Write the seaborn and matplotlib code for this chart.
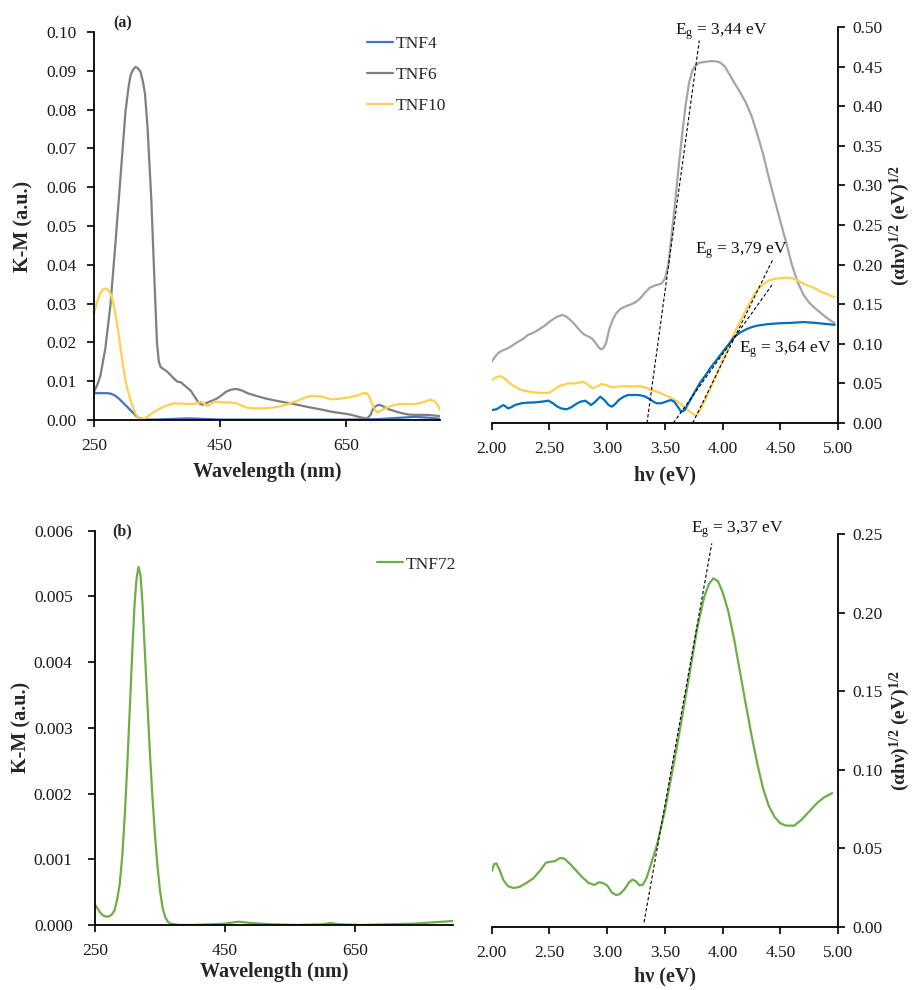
import matplotlib
matplotlib.use('Agg')
import matplotlib.pyplot as plt
import seaborn as sns
import numpy as np

# ---------------- data ----------------
# (a) K-M spectra
wl_tnf4 = [250, 260, 270, 276, 281, 286, 292, 297, 302, 308, 313, 318, 323, 329, 335, 350, 380, 400, 420, 450,
           550, 650, 700, 720, 740, 760, 780, 800]
km_tnf4 = [0.0069, 0.0069, 0.0069, 0.0068, 0.0065, 0.0060, 0.0051, 0.0043, 0.0035, 0.0025, 0.0017, 0.0009,
           0.0004, 0.0002, 0.0001, 0.0001, 0.0003, 0.0004, 0.0003, 0.0001,
           0.0001, 0.0001, 0.0002, 0.0004, 0.0006, 0.0008, 0.0006, 0.0003]

wl_tnf6 = [250, 255, 260, 268, 276, 284, 292, 300, 305, 308,
           312, 316, 320, 324, 328, 331, 335, 341, 346, 350,
           353, 356, 366, 375, 382, 388, 396, 404, 409, 414,
           418, 422, 427, 433, 440, 446, 453, 460, 468, 476,
           485, 494, 508, 521, 535, 548, 561, 574, 588, 601,
           614, 628, 641, 654, 664, 673, 679, 684, 689, 694,
           699, 704, 711, 718, 729, 740, 750, 761, 772, 782,
           793, 800]
km_tnf6 = [0.0073, 0.0090, 0.0113, 0.0185, 0.0295, 0.0455, 0.0625, 0.0795, 0.0860, 0.0888,
           0.0903, 0.0910, 0.0906, 0.0897, 0.0870, 0.0840, 0.0755, 0.0570, 0.0360, 0.0200,
           0.0150, 0.0136, 0.0125, 0.0110, 0.0099, 0.0097, 0.0086, 0.0075, 0.0062, 0.0050,
           0.0042, 0.0039, 0.0042, 0.0047, 0.0051, 0.0056, 0.0064, 0.0073, 0.0078, 0.0080,
           0.0076, 0.0069, 0.0062, 0.0056, 0.0051, 0.0047, 0.0043, 0.0039, 0.0034, 0.0030,
           0.0026, 0.0021, 0.0018, 0.0015, 0.0011, 0.0007, 0.0005, 0.0004, 0.0012, 0.0030,
           0.0037, 0.0039, 0.0034, 0.0028, 0.0022, 0.0017, 0.0014, 0.0013, 0.0013, 0.0013,
           0.0011, 0.0010]

wl_tnf10 = [250, 255, 260, 264, 268, 272, 276, 280, 284, 288,
            292, 296, 300, 304, 308, 312, 316, 320, 324, 328,
            332, 338, 345, 353, 361, 369, 377, 390, 404, 412,
            420, 425, 430, 435, 441, 450, 460, 468, 476, 485,
            494, 508, 521, 535, 548, 558, 569, 580, 590, 596,
            604, 612, 620, 628, 641, 654, 663, 670, 676, 681,
            684, 687, 691, 695, 700, 706, 713, 722, 734, 748,
            761, 772, 780, 785, 791, 796, 800]
km_tnf10 = [0.0275, 0.0305, 0.0327, 0.0336, 0.0339, 0.0336, 0.0327, 0.0305, 0.0273, 0.0232,
            0.0186, 0.0142, 0.0101, 0.0074, 0.0050, 0.0032, 0.0016, 0.0007, 0.0002, 0.0002,
            0.0005, 0.0012, 0.0021, 0.0028, 0.0034, 0.0039, 0.0043, 0.0042, 0.0041, 0.0042,
            0.0047, 0.0042, 0.0036, 0.0041, 0.0047, 0.0046, 0.0045, 0.0045, 0.0043, 0.0037,
            0.0031, 0.0030, 0.0030, 0.0032, 0.0036, 0.0041, 0.0047, 0.0054, 0.0060, 0.0062,
            0.0061, 0.0060, 0.0056, 0.0053, 0.0055, 0.0058, 0.0061, 0.0064, 0.0068, 0.0070,
            0.0068, 0.0062, 0.0045, 0.0031, 0.0019, 0.0024, 0.0030, 0.0036, 0.0041, 0.0041,
            0.0041, 0.0045, 0.0050, 0.0052, 0.0049, 0.0040, 0.0026]

# (a) Tauc plots
ev_tnf6 = [2.00, 2.03, 2.06, 2.10, 2.14, 2.19, 2.23, 2.28, 2.31, 2.36,
           2.40, 2.45, 2.49, 2.53, 2.57, 2.61, 2.64, 2.67, 2.71, 2.75,
           2.79, 2.81, 2.84, 2.87, 2.90, 2.93, 2.95, 2.97, 2.99, 3.02,
           3.05, 3.08, 3.12, 3.17, 3.21, 3.25, 3.29, 3.33, 3.37, 3.42,
           3.47, 3.50, 3.53, 3.56, 3.59, 3.62, 3.65, 3.68, 3.71, 3.74,
           3.77, 3.80, 3.85, 3.90, 3.95, 3.98, 4.02, 4.06, 4.10, 4.15,
           4.20, 4.25, 4.30, 4.35, 4.40, 4.45, 4.50, 4.55, 4.60, 4.65,
           4.70, 4.75, 4.80, 4.85, 4.90, 4.97]
tauc_tnf6 = [0.0774, 0.084, 0.089, 0.092, 0.0943, 0.099, 0.1027, 0.107, 0.111, 0.114,
             0.1174, 0.122, 0.1267, 0.131, 0.1345, 0.1364, 0.135, 0.1315, 0.126, 0.119,
             0.113, 0.111, 0.109, 0.1065, 0.101, 0.095, 0.093, 0.095, 0.101, 0.1195,
             0.131, 0.139, 0.1445, 0.148, 0.150, 0.153, 0.158, 0.165, 0.171, 0.174,
             0.176, 0.182, 0.200, 0.240, 0.280, 0.325, 0.365, 0.402, 0.430, 0.446,
             0.452, 0.455, 0.456, 0.457, 0.4565, 0.455, 0.450, 0.440, 0.430, 0.418,
             0.405, 0.388, 0.365, 0.340, 0.310, 0.282, 0.255, 0.228, 0.200, 0.178,
             0.162, 0.152, 0.145, 0.139, 0.133, 0.126]

ev_tnf10 = [2.00, 2.04, 2.07, 2.11, 2.15, 2.20, 2.25, 2.29, 2.35, 2.40,
            2.45, 2.50, 2.54, 2.58, 2.62, 2.66, 2.72, 2.79, 2.83, 2.87,
            2.91, 2.95, 2.99, 3.04, 3.10, 3.15, 3.22, 3.27, 3.33, 3.38,
            3.44, 3.50, 3.56, 3.61, 3.65, 3.69, 3.73, 3.76, 3.78, 3.81,
            3.85, 3.90, 3.95, 4.00, 4.05, 4.10, 4.15, 4.20, 4.25, 4.30,
            4.35, 4.40, 4.45, 4.50, 4.55, 4.60, 4.65, 4.70, 4.75, 4.80,
            4.85, 4.90, 4.97]
tauc_tnf10 = [0.0543, 0.058, 0.0593, 0.0565, 0.051, 0.0459, 0.042, 0.0405, 0.039, 0.0383,
              0.038, 0.0383, 0.042, 0.0465, 0.048, 0.0501, 0.050, 0.0522, 0.049, 0.0438,
              0.046, 0.0492, 0.048, 0.0451, 0.046, 0.0467, 0.046, 0.0467, 0.045, 0.0417,
              0.039, 0.0354, 0.031, 0.0269, 0.022, 0.0175, 0.013, 0.0095, 0.0105, 0.018,
              0.030, 0.046, 0.062, 0.079, 0.096, 0.113, 0.128, 0.142, 0.156, 0.168,
              0.175, 0.180, 0.182, 0.183, 0.1835, 0.183, 0.180, 0.176, 0.173, 0.170,
              0.166, 0.163, 0.159]

ev_tnf4 = [2.00, 2.03, 2.055, 2.08, 2.10, 2.12, 2.14, 2.17, 2.20, 2.26,
           2.31, 2.37, 2.43, 2.49, 2.53, 2.56, 2.60, 2.65, 2.69, 2.73,
           2.77, 2.81, 2.84, 2.86, 2.89, 2.94, 2.98, 3.01, 3.04, 3.07,
           3.10, 3.14, 3.18, 3.27, 3.32, 3.36, 3.40, 3.43, 3.47, 3.51,
           3.55, 3.58, 3.61, 3.64, 3.67, 3.70, 3.75, 3.80, 3.85, 3.90,
           3.95, 4.00, 4.05, 4.10, 4.15, 4.20, 4.25, 4.30, 4.40, 4.50,
           4.60, 4.70, 4.80, 4.90, 4.97]
tauc_tnf4 = [0.0164, 0.017, 0.0185, 0.021, 0.0227, 0.021, 0.0185, 0.020, 0.0227, 0.025,
             0.0257, 0.026, 0.0269, 0.0282, 0.025, 0.0215, 0.0185, 0.0173, 0.020, 0.024,
             0.027, 0.0282, 0.025, 0.0227, 0.026, 0.0332, 0.0285, 0.023, 0.0206, 0.024,
             0.029, 0.033, 0.0354, 0.0354, 0.034, 0.031, 0.027, 0.0249, 0.025, 0.027,
             0.029, 0.027, 0.021, 0.0143, 0.016, 0.024, 0.037, 0.0497, 0.060, 0.0707,
             0.080, 0.0896, 0.099, 0.1086, 0.114, 0.118, 0.121, 0.123, 0.125, 0.126,
             0.1265, 0.1275, 0.1265, 0.125, 0.124]

# (b) TNF72
wl_tnf72 = [250, 254, 258, 263, 268, 272, 276, 280, 284, 288,
            292, 296, 300, 304, 308, 311, 314, 317, 320, 323,
            326, 330, 334, 338, 342, 346, 350, 354, 358, 362,
            366, 372, 380, 400, 430, 450, 470, 490, 520, 560,
            600, 612, 625, 660, 700, 740, 770, 800]
km_tnf72 = [0.00031, 0.00025, 0.00019, 0.00014, 0.000127, 0.00013, 0.00016, 0.00022, 0.00038, 0.00062,
            0.00105, 0.0017, 0.0025, 0.0034, 0.0043, 0.0049, 0.00528, 0.00545, 0.00532, 0.0049,
            0.0043, 0.0035, 0.0027, 0.0020, 0.0014, 0.0009, 0.00052, 0.00026, 0.00012, 0.00005,
            0.00002, 0.00001, 0.0, 0.0, 0.00001, 0.00002, 0.00005, 0.00003, 0.00001, 0.0,
            0.00001, 0.00003, 0.00001, 0.0, 0.00001, 0.00002, 0.00004, 0.00006]

ev_tnf72 = [2.00, 2.02, 2.04, 2.07, 2.10, 2.14, 2.19, 2.24, 2.30, 2.36,
            2.42, 2.47, 2.51, 2.55, 2.59, 2.63, 2.68, 2.73, 2.78, 2.84,
            2.89, 2.93, 2.96, 3.00, 3.04, 3.08, 3.11, 3.15, 3.19, 3.22,
            3.25, 3.28, 3.31, 3.34, 3.38, 3.43, 3.50, 3.60, 3.70, 3.78,
            3.84, 3.88, 3.92, 3.96, 4.00, 4.05, 4.10, 4.15, 4.20, 4.25,
            4.30, 4.35, 4.40, 4.45, 4.50, 4.55, 4.62, 4.68, 4.75, 4.82,
            4.88, 4.95]
tauc_tnf72 = [0.0354, 0.040, 0.0405, 0.036, 0.030, 0.026, 0.0248, 0.0255, 0.028, 0.031,
              0.036, 0.041, 0.0415, 0.042, 0.0439, 0.0435, 0.040, 0.036, 0.032, 0.028,
              0.0268, 0.0285, 0.028, 0.0265, 0.022, 0.0203, 0.021, 0.024, 0.0285, 0.0302,
              0.029, 0.0265, 0.027, 0.031, 0.040, 0.052, 0.074, 0.113, 0.155, 0.190,
              0.210, 0.218, 0.2218, 0.220, 0.213, 0.2006, 0.183, 0.1625, 0.142, 0.1222,
              0.104, 0.0883, 0.077, 0.070, 0.066, 0.0645, 0.0645, 0.068, 0.0735, 0.079,
              0.0825, 0.0852]

# Tangent (band-gap) lines: start/end points
fit_a_x = [[3.345, 3.798], [3.573, 4.426], [3.741, 4.44]]
fit_a_y = [[0.0, 0.483], [0.0, 0.174], [0.0, 0.208]]
fit_b_x = [3.319, 3.906]
fit_b_y = [0.003, 0.244]

eg_labels_a = ['3,44', '3,79', '3,64']
eg_pos_a_x = [3.59, 3.76, 4.14]
eg_pos_a_y = [0.494, 0.218, 0.092]
eg_label_b = '3,37'
eg_pos_b = (3.73, 0.2525)

# ---------------- style ----------------
sns.set_theme(style='ticks')
plt.rcParams['font.family'] = ['Liberation Serif', 'DejaVu Serif']
plt.rcParams.update({
    'mathtext.fontset': 'custom',
    'mathtext.rm': 'Liberation Serif',
    'mathtext.it': 'Liberation Serif:italic',
    'mathtext.bf': 'Liberation Serif:bold',
    'axes.edgecolor': 'black',
    'axes.linewidth': 1.3,
    'xtick.color': 'black',
    'ytick.color': 'black',
    'lines.solid_joinstyle': 'round',
    'lines.solid_capstyle': 'round',
})

C_BLUE_L = '#4472C4'
C_GRAY_L = '#7F7F7F'
C_YEL = '#FFD04A'
C_BLUE_R = '#0070C0'
C_GRAY_R = '#A5A5A5'
C_GREEN = '#70AD47'
LW = 1.6
TICK_FS = 12.5
LAB_FS = 14.5
RLAB_FS = 14

fig = plt.figure(figsize=(9.13, 9.90), dpi=100)
ax1 = fig.add_axes([0.103, 0.5758, 0.379, 0.3919])
ax2 = fig.add_axes([0.5386, 0.5727, 0.3793, 0.4000])
ax3 = fig.add_axes([0.104, 0.0657, 0.392, 0.3982])
ax4 = fig.add_axes([0.5386, 0.0636, 0.3793, 0.3970])


def style_left(ax, ypad):
    sns.despine(ax=ax, top=True, right=True)
    ax.tick_params(axis='both', direction='out', length=5, width=1.2, labelsize=TICK_FS,
                   labelcolor='#1a1a1a')
    ax.tick_params(axis='x', pad=8)
    ax.tick_params(axis='y', pad=ypad)


def style_right(ax):
    ax.spines['left'].set_visible(False)
    ax.spines['top'].set_visible(False)
    ax.spines['right'].set_visible(True)
    ax.yaxis.tick_right()
    ax.yaxis.set_label_position('right')
    ax.tick_params(axis='both', direction='out', length=5, width=1.2, labelsize=TICK_FS,
                   labelcolor='#1a1a1a')
    ax.tick_params(axis='x', pad=8)
    ax.tick_params(axis='y', pad=5)


# ---- (a) left ----
for x, y, c, lab in [(wl_tnf4, km_tnf4, C_BLUE_L, 'TNF4'),
                     (wl_tnf6, km_tnf6, C_GRAY_L, 'TNF6'),
                     (wl_tnf10, km_tnf10, C_YEL, 'TNF10')]:
    sns.lineplot(x=x, y=y, ax=ax1, color=c, lw=LW, label=lab, sort=False, estimator=None)
ax1.set_xlim(250, 800)
ax1.set_ylim(0, 0.10)
ax1.set_xticks([250, 450, 650])
yt = np.arange(0, 0.1001, 0.01)
ax1.set_yticks(yt)
ax1.set_yticklabels([f'{v:.2f}' for v in yt])
ax1.set_xlabel('Wavelength (nm)', fontsize=LAB_FS, fontweight='bold', labelpad=6)
ax1.set_ylabel('K-M (a.u.)', fontsize=LAB_FS, fontweight='bold', labelpad=9)
style_left(ax1, ypad=7.5)
ax1.legend(loc='upper left', bbox_to_anchor=(0.789, 0.99), frameon=False, fontsize=12.5,
           handlelength=1.5, handletextpad=0.15, labelspacing=0.85, borderpad=0, borderaxespad=0)

# ---- (a) right ----
for x, y, c in [(ev_tnf6, tauc_tnf6, C_GRAY_R),
                (ev_tnf10, tauc_tnf10, C_YEL),
                (ev_tnf4, tauc_tnf4, C_BLUE_R)]:
    sns.lineplot(x=x, y=y, ax=ax2, color=c, lw=LW, sort=False, estimator=None)
for fx, fy in zip(fit_a_x, fit_a_y):
    ax2.plot(fx, fy, color='black', lw=0.8, ls=(0, (3, 2)))
for lab, tx, ty in zip(eg_labels_a, eg_pos_a_x, eg_pos_a_y):
    ax2.text(tx, ty, r'E$_{\mathrm{g}}$ = ' + lab + ' eV', fontsize=12.5, va='center', ha='left',
             color='#111111')
ax2.set_xlim(2.0, 5.0)
ax2.set_ylim(0, 0.50)
xt = np.arange(2.0, 5.01, 0.5)
ax2.set_xticks(xt)
ax2.set_xticklabels([f'{v:.2f}' for v in xt])
yt2 = np.arange(0, 0.501, 0.05)
ax2.set_yticks(yt2)
ax2.set_yticklabels([f'{v:.2f}' for v in yt2])
ax2.set_xlabel('hν (eV)', fontsize=LAB_FS, fontweight='bold', labelpad=6)
ax2.set_ylabel(r'(αhν)$^{\mathbf{1/2}}$ (eV)$^{\mathbf{1/2}}$', fontsize=RLAB_FS, fontweight='bold',
               labelpad=4)
style_right(ax2)

# ---- (b) left ----
sns.lineplot(x=wl_tnf72, y=km_tnf72, ax=ax3, color=C_GREEN, lw=LW, label='TNF72', sort=False, estimator=None)
ax3.set_xlim(250, 800)
ax3.set_ylim(0, 0.006)
ax3.set_xticks([250, 450, 650])
yt3 = np.arange(0, 0.00601, 0.001)
ax3.set_yticks(yt3)
ax3.set_yticklabels([f'{v:.3f}' for v in yt3])
ax3.set_xlabel('Wavelength (nm)', fontsize=LAB_FS, fontweight='bold', labelpad=2)
ax3.set_ylabel('K-M (a.u.)', fontsize=LAB_FS, fontweight='bold', labelpad=2)
style_left(ax3, ypad=11)
ax3.legend(loc='upper left', bbox_to_anchor=(0.788, 0.935), frameon=False, fontsize=12.5,
           handlelength=1.5, handletextpad=0.15, borderpad=0, borderaxespad=0)

# ---- (b) right ----
sns.lineplot(x=ev_tnf72, y=tauc_tnf72, ax=ax4, color=C_GREEN, lw=LW, sort=False, estimator=None)
ax4.plot(fit_b_x, fit_b_y, color='black', lw=0.8, ls=(0, (3, 2)))
ax4.text(eg_pos_b[0], eg_pos_b[1], r'E$_{\mathrm{g}}$ = ' + eg_label_b + ' eV', fontsize=12.5,
         va='center', ha='left', color='#111111')
ax4.set_xlim(2.0, 5.0)
ax4.set_ylim(0, 0.25)
ax4.set_xticks(xt)
ax4.set_xticklabels([f'{v:.2f}' for v in xt])
yt4 = np.arange(0, 0.2501, 0.05)
ax4.set_yticks(yt4)
ax4.set_yticklabels([f'{v:.2f}' for v in yt4])
ax4.set_xlabel('hν (eV)', fontsize=LAB_FS, fontweight='bold', labelpad=4)
ax4.set_ylabel(r'(αhν)$^{\mathbf{1/2}}$ (eV)$^{\mathbf{1/2}}$', fontsize=RLAB_FS, fontweight='bold',
               labelpad=4)
style_right(ax4)

# panel tags
fig.text(113 / 913, 1 - 23 / 990, '(a)', fontsize=11.5, fontweight='bold', va='center', ha='left')
fig.text(112 / 913, 1 - 531 / 990, '(b)', fontsize=11.5, fontweight='bold', va='center', ha='left')

fig.savefig('out.png', dpi=100, facecolor='white')
